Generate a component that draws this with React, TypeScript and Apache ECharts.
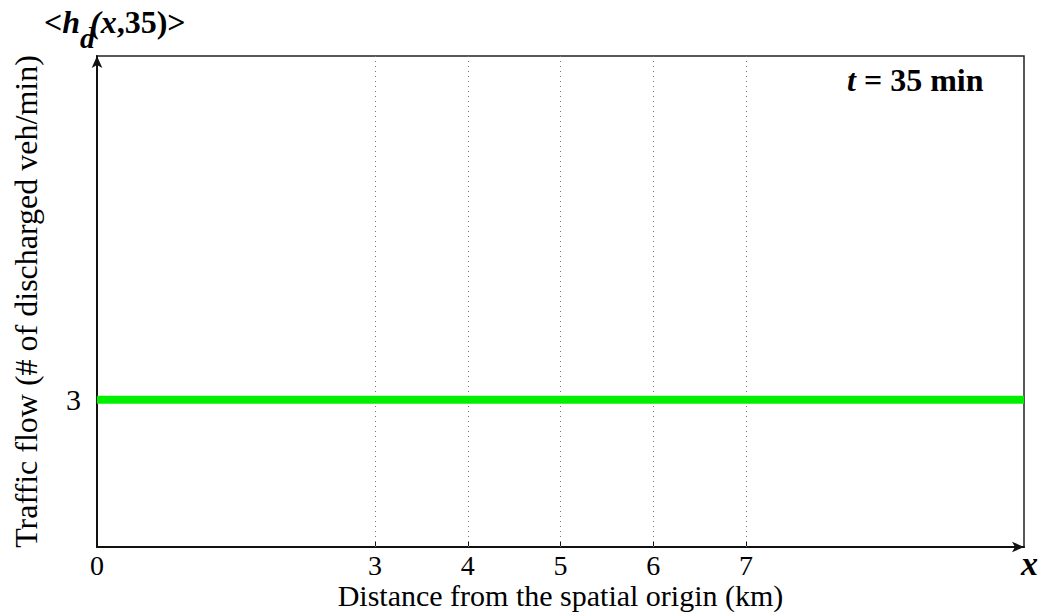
import React, { useEffect, useRef } from "react";
import * as echarts from "echarts";

const xValues = [0, 10];
const flowValues = [3, 3];
const xTickLabels = [0, 3, 4, 5, 6, 7];
const xGridLines = [3, 4, 5, 6, 7];
const yTickLabels = [3];

const SERIF = "'Liberation Serif', 'Times New Roman', serif";

export default function App() {
  const ref = useRef<HTMLDivElement>(null);
  useEffect(() => {
    document.body.style.margin = "0";
    const chart = echarts.init(ref.current!, null, { renderer: "svg" });
    chart.setOption({
      animation: false,
      backgroundColor: "#ffffff",
      grid: {
        left: 97,
        right: 21,
        top: 56,
        bottom: 65,
        outerBoundsMode: "none",
        containLabel: false,
        show: true,
        borderColor: "#222",
        borderWidth: 1.5,
        backgroundColor: "transparent",
      },
      xAxis: {
        type: "value",
        min: 0,
        max: 10,
        interval: 1,
        name: "Distance from the spatial origin (km)",
        nameLocation: "middle",
        nameGap: 33,
        nameMoveOverlap: false,
        nameTextStyle: { fontFamily: SERIF, fontSize: 30, color: "#000", lineHeight: 30 },
        axisLine: {
          lineStyle: { color: "#111", width: 2 },
          symbol: ["none", "arrow"],
          symbolSize: [8, 12],
        },
        axisTick: {
          show: true,
          inside: true,
          length: 6,
          customValues: xGridLines,
          lineStyle: { color: "#111", width: 1 },
        },
        axisLabel: {
          customValues: xTickLabels,
          fontFamily: SERIF,
          fontSize: 28,
          lineHeight: 28,
          color: "#000",
          margin: 4,
        },
        splitLine: { show: false },
      },
      yAxis: {
        type: "value",
        min: 0,
        max: 10,
        interval: 1,
        name: "Traffic flow (# of discharged veh/min)",
        nameLocation: "middle",
        nameGap: 55,
        nameMoveOverlap: false,
        nameTextStyle: { fontFamily: SERIF, fontSize: 32, color: "#000" },
        axisLine: {
          lineStyle: { color: "#111", width: 2 },
          symbol: ["none", "arrow"],
          symbolSize: [8, 12],
        },
        axisTick: { show: true, inside: true, length: 6, customValues: yTickLabels },
        axisLabel: {
          customValues: yTickLabels,
          fontFamily: SERIF,
          fontSize: 30,
          color: "#000",
          margin: 16,
        },
        splitLine: { show: false },
      },
      graphic: [
        {
          type: "text",
          left: 44,
          top: 6,
          style: {
            text: "{a|<}{i|h}{s|d}{i|(x}{a|,35)>}",
            rich: {
              a: { fontFamily: SERIF, fontSize: 32, fontWeight: "bold", fill: "#000", verticalAlign: "top", lineHeight: 32 },
              i: { fontFamily: SERIF, fontSize: 32, fontWeight: "bold", fontStyle: "italic", fill: "#000", verticalAlign: "top", lineHeight: 32 },
              s: { fontFamily: SERIF, fontSize: 30, fontWeight: "bold", fontStyle: "italic", fill: "#000", verticalAlign: "top", lineHeight: 32, padding: [16, -5, 0, 0] },
            },
          },
        },
        {
          type: "text",
          left: 847,
          top: 64,
          style: {
            text: "{i|t}{b| = 35 min}",
            rich: {
              i: { fontFamily: SERIF, fontSize: 32, fontWeight: "bold", fontStyle: "italic", fill: "#000" },
              b: { fontFamily: SERIF, fontSize: 32, fontWeight: "bold", fill: "#000" },
            },
          },
        },
        {
          type: "text",
          left: 1021,
          top: 546,
          style: {
            text: "x",
            fontFamily: SERIF,
            fontSize: 34,
            fontWeight: "bold",
            fontStyle: "italic",
            fill: "#000",
          },
        },
      ],
      series: [
        {
          type: "line",
          data: xValues.map((x, i) => [x, flowValues[i]]),
          showSymbol: false,
          lineStyle: { color: "#00f000", width: 8 },
          z: 3,
          markLine: {
            silent: true,
            symbol: "none",
            label: { show: false },
            lineStyle: { color: "#777", type: [1, 4], width: 1 },
            data: xGridLines.map((v) => ({ xAxis: v })),
            z: 1,
          },
        },
      ],
    });
    return () => chart.dispose();
  }, []);
  return <div ref={ref} style={{ width: 1045, height: 612 }} />;
}
